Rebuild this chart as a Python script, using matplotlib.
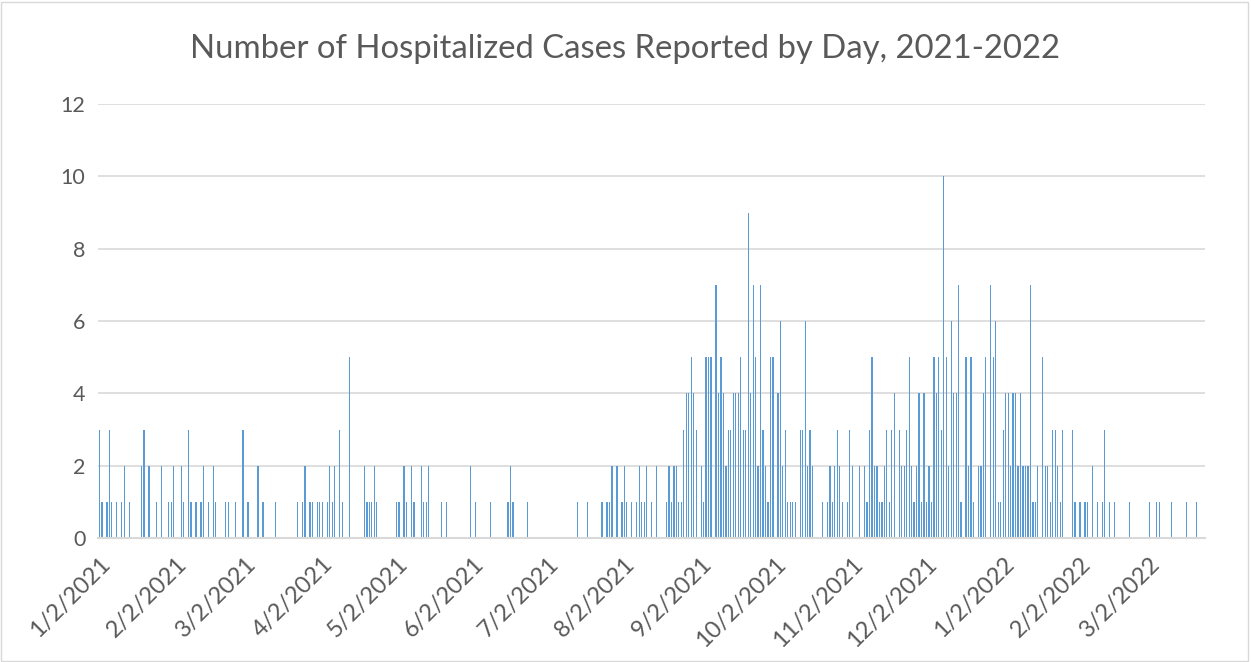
import matplotlib
matplotlib.use("Agg")
import matplotlib.pyplot as plt
import matplotlib.dates as mdates
from matplotlib.patches import Rectangle
import pandas as pd

# ---- data ----
start_date = "2021-01-02"
day_offsets = [0, 1, 3, 4, 5, 7, 9, 10, 12, 17, 18, 20, 23, 25, 28, 29, 30, 33, 34, 36,
               37, 39, 41, 42, 44, 46, 47, 51, 52, 55, 58, 60, 64, 66, 71, 80, 82, 83, 85, 86,
               88, 89, 90, 92, 93, 94, 95, 97, 98, 101, 107, 108, 109, 110, 111, 112, 120, 121, 123, 124,
               126, 127, 130, 131, 132, 133, 138, 140, 150, 152, 158, 165, 166, 167, 173, 193, 197, 203, 205, 206,
               207, 209, 211, 212, 213, 215, 217, 218, 219, 220, 221, 223, 225, 229, 230, 231, 232, 233, 234, 235,
               236, 237, 238, 239, 240, 241, 243, 244, 245, 246, 247, 249, 250, 251, 252, 253, 254, 255, 256, 257,
               258, 259, 260, 261, 262, 263, 264, 265, 266, 267, 268, 269, 270, 271, 272, 274, 275, 276, 277, 278,
               279, 280, 281, 283, 284, 285, 286, 287, 288, 292, 294, 295, 296, 297, 298, 299, 300, 302, 303, 304,
               307, 309, 310, 311, 312, 313, 314, 315, 316, 317, 318, 319, 320, 321, 323, 324, 325, 326, 327, 328,
               329, 330, 331, 332, 333, 334, 335, 336, 337, 338, 339, 340, 341, 342, 343, 344, 345, 346, 347, 348,
               350, 351, 352, 353, 355, 356, 357, 358, 360, 361, 362, 363, 364, 365, 366, 367, 368, 369, 370, 371,
               372, 373, 374, 375, 376, 377, 378, 379, 381, 382, 383, 384, 385, 386, 387, 388, 389, 393, 394, 396,
               398, 399, 401, 403, 405, 406, 408, 410, 416, 424, 427, 428, 433, 439, 443]
cases = [3, 1, 1, 3, 1, 1, 1, 2, 1, 2, 3, 2, 1, 2, 1, 1, 2, 2, 1, 3,
         1, 1, 1, 2, 1, 2, 1, 1, 1, 1, 3, 1, 2, 1, 1, 1, 1, 2, 1, 1,
         1, 1, 1, 1, 2, 1, 2, 3, 1, 5, 2, 1, 1, 1, 2, 1, 1, 1, 2, 1,
         2, 1, 2, 1, 1, 2, 1, 1, 2, 1, 1, 1, 2, 1, 1, 1, 1, 1, 1, 1,
         2, 2, 1, 2, 1, 1, 1, 2, 1, 1, 2, 1, 2, 1, 2, 1, 2, 2, 1, 1,
         3, 4, 4, 5, 4, 3, 2, 1, 5, 5, 5, 7, 4, 5, 4, 2, 3, 3, 4, 4,
         4, 5, 3, 3, 9, 4, 7, 5, 2, 7, 3, 2, 1, 5, 5, 4, 6, 2, 3, 1,
         1, 1, 1, 3, 3, 6, 2, 3, 2, 1, 1, 2, 1, 2, 3, 2, 1, 1, 3, 2,
         2, 2, 1, 3, 5, 2, 2, 1, 1, 2, 3, 1, 3, 4, 3, 2, 2, 3, 5, 2,
         1, 2, 4, 1, 4, 1, 2, 1, 5, 4, 5, 3, 10, 5, 2, 6, 4, 4, 7, 1,
         5, 2, 5, 1, 2, 2, 4, 5, 7, 5, 6, 1, 1, 3, 4, 4, 2, 4, 4, 2,
         4, 2, 2, 2, 7, 1, 1, 2, 5, 2, 2, 1, 3, 3, 2, 1, 3, 3, 1, 1,
         1, 1, 2, 1, 1, 3, 1, 1, 1, 1, 1, 1, 1, 1, 1]
tick_dates = ["2021-01-02", "2021-02-02", "2021-03-02", "2021-04-02", "2021-05-02",
              "2021-06-02", "2021-07-02", "2021-08-02", "2021-09-02", "2021-10-02",
              "2021-11-02", "2021-12-02", "2022-01-02", "2022-02-02", "2022-03-02"]
tick_labels = ["1/2/2021", "2/2/2021", "3/2/2021", "4/2/2021", "5/2/2021",
               "6/2/2021", "7/2/2021", "8/2/2021", "9/2/2021", "10/2/2021",
               "11/2/2021", "12/2/2021", "1/2/2022", "2/2/2022", "3/2/2022"]
y_ticks = [0, 2, 4, 6, 8, 10, 12]
title = "Number of Hospitalized Cases Reported by Day, 2021-2022"

# ---- figure ----
W, H = 1251, 662
fig = plt.figure(figsize=(W / 100, H / 100), dpi=100)
text_color = "#595959"
grid_color = "#D9D9D9"
bar_color = "#5B9BD5"
font = ["Lato", "DejaVu Sans"]

L, R, T, B = 98, 1205, 104, 538
ax = fig.add_axes([L / W, 1 - B / H, (R - L) / W, (B - T) / H])

t0 = pd.Timestamp(start_date)
dates = t0 + pd.to_timedelta(day_offsets, unit="D")
ax.bar(mdates.date2num(dates), cases, width=0.5, color=bar_color, linewidth=0, zorder=3)

x0 = mdates.date2num(t0)
ax.set_xlim(x0 - 0.6, x0 + 446.5)
ax.set_ylim(0, 12)
ax.set_yticks(y_ticks)
ax.set_yticklabels([str(v) for v in y_ticks], fontsize=15.5, color=text_color, family=font)
ax.set_xticks(mdates.date2num(pd.to_datetime(tick_dates)))
ax.set_xticklabels(tick_labels, rotation=45, ha="right", rotation_mode="anchor",
                   fontsize=17, color=text_color, family=font)
ax.tick_params(axis="both", length=0)
ax.tick_params(axis="y", pad=9)
ax.tick_params(axis="x", pad=11)
ax.grid(axis="y", color=grid_color, linewidth=1.2, zorder=0)
ax.set_axisbelow(True)
for s in ["top", "right", "left"]:
    ax.spines[s].set_visible(False)
ax.spines["bottom"].set_color(grid_color)
ax.spines["bottom"].set_linewidth(1.5)
ax.spines["bottom"].set_zorder(4)

fig.text(0.5, 1 - 49 / H, title, ha="center", va="center", fontsize=23.7,
         color=text_color, family=font)

fig.patches.append(Rectangle((1 / W, 1 / H), (W - 4) / W, (H - 3) / H,
                             transform=fig.transFigure, fill=False,
                             edgecolor=grid_color, linewidth=1))

fig.savefig("out.png", dpi=100)
